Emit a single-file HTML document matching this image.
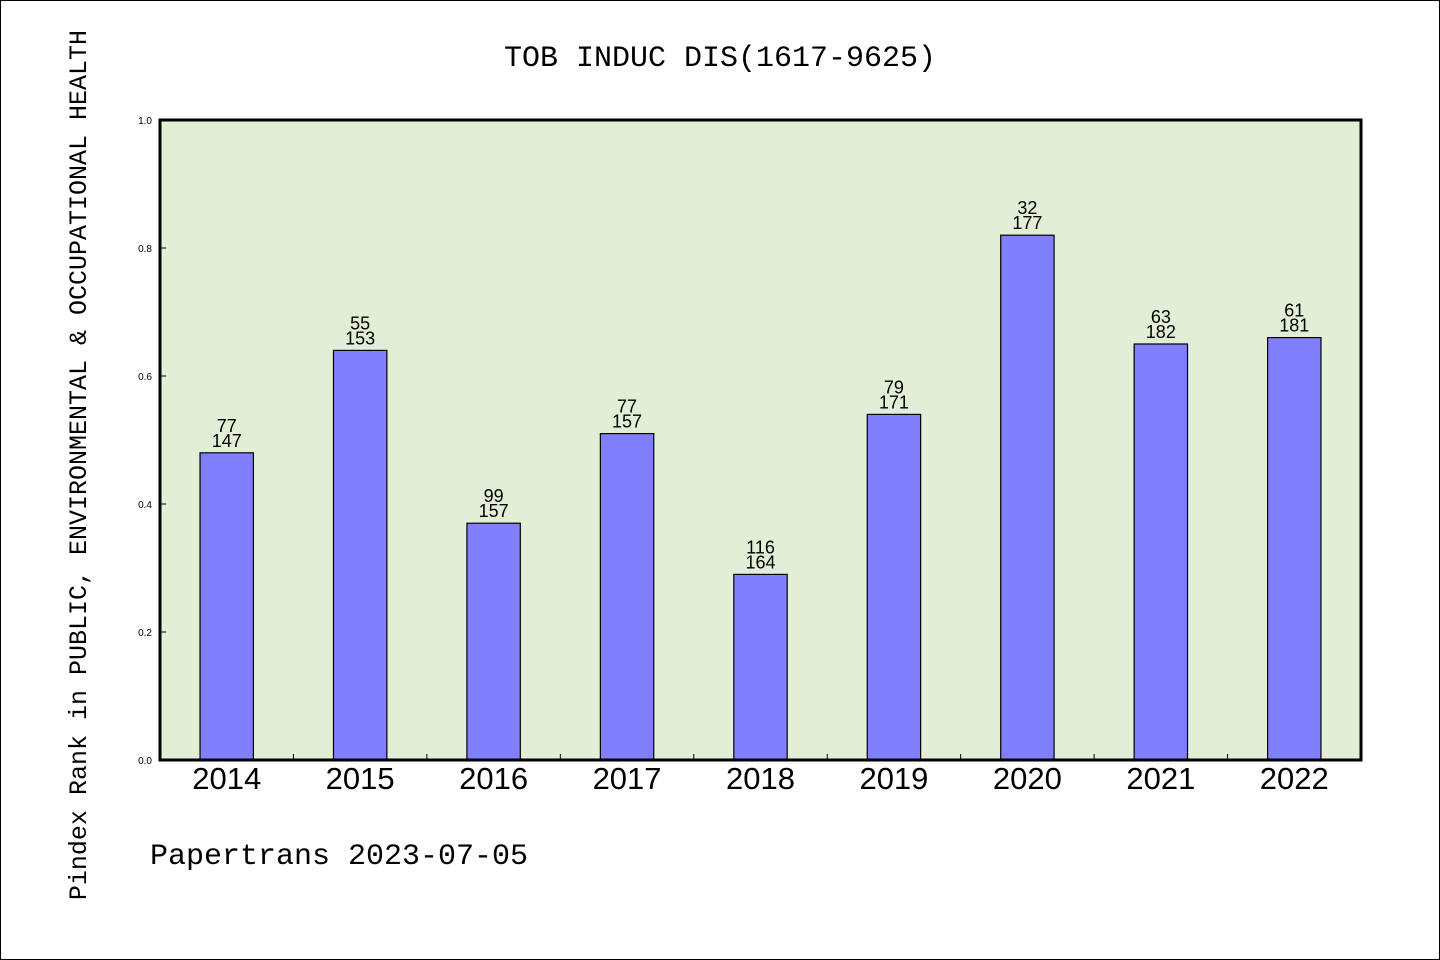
<!DOCTYPE html>
<html><head><meta charset="utf-8"><style>
html,body{margin:0;padding:0;background:#fff}
svg{display:block}
</style></head><body>
<svg width="1440" height="960" xmlns="http://www.w3.org/2000/svg">
<rect x="0.5" y="0.5" width="1439" height="959" fill="#fff" stroke="#000"/>
<text x="720" y="66" text-anchor="middle" font-family="Liberation Mono, monospace" font-size="30">TOB INDUC DIS(1617-9625)</text>
<rect x="160" y="120" width="1201" height="640" fill="#e2efd6"/>
<g id="bars"></g>
<rect x="160" y="120" width="1201" height="640" fill="none" stroke="#000" stroke-width="3"/>
<text transform="translate(86,465) rotate(-90)" text-anchor="middle" font-family="Liberation Mono, monospace" font-size="25">Pindex Rank in PUBLIC, ENVIRONMENTAL &amp; OCCUPATIONAL HEALTH</text>
<text x="150" y="864" font-family="Liberation Mono, monospace" font-size="30">Papertrans 2023-07-05</text>
</svg>
<script>
const categories=["2014","2015","2016","2017","2018","2019","2020","2021","2022"];
const values=[0.48,0.64,0.37,0.51,0.29,0.54,0.82,0.65,0.66];
const topLabels=["77","55","99","77","116","79","32","63","61"];
const bottomLabels=["147","153","157","157","164","171","177","182","181"];
const yTicks=["0.0","0.2","0.4","0.6","0.8","1.0"];
const NS="http://www.w3.org/2000/svg";
const X0=160,W=1201,Y0=760,H=640;
const slot=W/categories.length;
const y=v=>Y0-v*H;
const x=i=>X0+slot*(i+0.5);
const g=document.getElementById('bars');
function mk(t,a){const e=document.createElementNS(NS,t);for(const k in a)e.setAttribute(k,a[k]);return e;}
categories.forEach((c,i)=>{
  const bw=slot*0.4;
  const r=mk('rect',{x:x(i)-bw/2,y:y(values[i]),width:bw,height:Y0-y(values[i]),fill:'#8080ff',stroke:'#000','stroke-width':1.2});
  
  
  g.appendChild(r);
  const t1=mk('text',{x:x(i),y:y(values[i])-21,'text-anchor':'middle','font-family':'Liberation Sans, sans-serif','font-size':18});
  t1.textContent=topLabels[i];
  
  
  g.appendChild(t1);
  const t2=mk('text',{x:x(i),y:y(values[i])-6,'text-anchor':'middle','font-family':'Liberation Sans, sans-serif','font-size':18});
  t2.textContent=bottomLabels[i];
  
  
  g.appendChild(t2);
  const xl=mk('text',{x:x(i),y:789,'text-anchor':'middle','font-family':'Liberation Sans, sans-serif','font-size':31});
  xl.textContent=c;
  
  
  g.appendChild(xl);
  if(i>0){
    const tk=mk('line',{x1:X0+slot*i,x2:X0+slot*i,y1:Y0,y2:Y0-6,stroke:'#000','stroke-width':1});
    
    
    g.appendChild(tk);
  }
});
yTicks.forEach((l,i)=>{
  const v=parseFloat(l);
  const tk=mk('line',{x1:X0,x2:X0+6,y1:y(v),y2:y(v),stroke:'#000','stroke-width':1});
  
  
  g.appendChild(tk);
  const t=mk('text',{x:152,y:y(v)+4,'text-anchor':'end','font-family':'Liberation Sans, sans-serif','font-size':10});
  t.textContent=l;
  
  
  g.appendChild(t);
});
</script>
</body></html>
